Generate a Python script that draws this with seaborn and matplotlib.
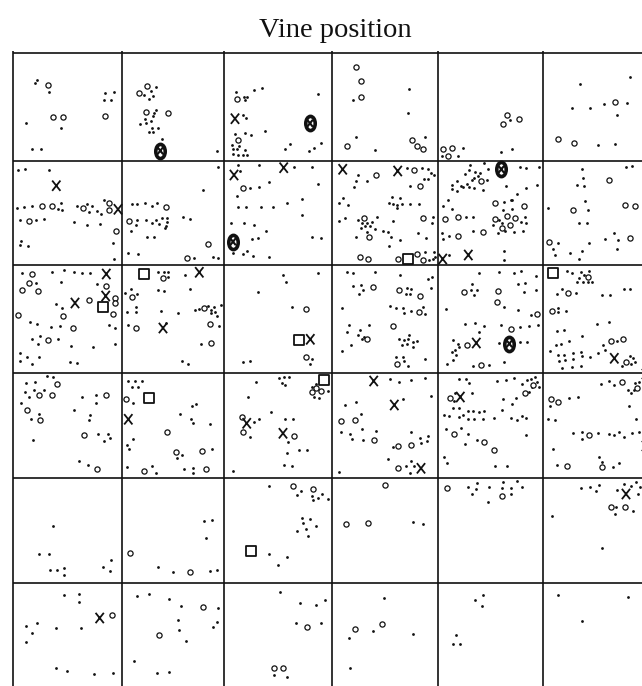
import matplotlib
matplotlib.use("Agg")
import matplotlib.pyplot as plt
import seaborn as sns
import pandas as pd
from matplotlib.path import Path
from matplotlib.transforms import Affine2D

# Field positions (picture units, origin top-left of the vineyard map)
col_edges = [13, 122, 224, 332, 437.5, 543]
row_edges = [53, 161, 265, 373, 478, 583]

dots = [
    (35,82.7),(37,80),(49,91.7),(105,92.7),(114,92.3),(104.3,100),(111.3,100),(25.7,123.3),(60.7,127.7),(32.3,148.7),(40.7,148.7),
    (156,86.7),(150.7,90.7),(144.3,95.3),(149.3,99.3),(152.7,96),(154,112.7),(156.3,110.3),(153,116),(145,119),(150.7,121),(140.3,123.7),(145.7,123),(151.7,127.7),(158.3,128.3),(149,132),(153.3,132),(162.3,139),(217,150.7),
    (235.7,91.7),(243.7,96.7),(247.3,96.7),(245.3,100.3),(254.3,90),(261.7,87.7),(318.3,94),(242.7,115.3),(246,118),(265,130.7),(235,134.3),(245,133.3),(251,134.7),(232.3,144.7),(239.3,146),(233.3,149.3),(237,149.3),(245,150),(232.7,154),(237.7,154.7),(242.7,155.3),(247.3,155),(285,149.3),(290,144),(309.3,151),(313.7,147.7),(320.7,143.3),
    (353.3,100),(409.3,89.3),(408.3,112.7),(356.3,137.3),(375.3,150),(424.7,137.3),
    (510,120),(501,152),(512.3,149.3),(442,156),(458.3,155.7),(462.7,147.7),
    (629.7,77),(580.3,84.3),(572,108.3),(590,107.7),(603.7,104),(627,102.7),(617,114.7),(598.3,145.3),(615,144),
    (18,170),(25.3,168.7),(48.7,170.3),(16.7,208.3),(24.3,206.7),(32.3,205.7),(57.7,209.3),(60.7,203),(62,210),(77.3,205.7),(87.3,203.7),(91.7,206),(89.3,212),(96.7,211.3),(101.3,214),(103.7,200.3),(20.3,220),(35.7,220),(44,219),(74,222.3),(87,224.7),(100.3,223.7),(21,241),(28.3,246),(20,245.3),(112.7,243),(114,259),
    (218,166.7),(202.7,189.7),(131.7,204),(136.7,203.7),(145.3,203),(152.3,206.3),(157.3,203.3),(137.3,220),(145.7,219.7),(151.7,223),(156.3,219.7),(161.7,218),(167,217.7),(159.3,224),(167,222),(165.7,225.7),(164.7,228),(136,225.3),(131,231.3),(182.7,217.3),(190.3,219.3),(147,237.3),(154.3,237.3),(128,253.3),(138,254),(193.7,258.3),(213.3,257),(218,258.3),
    (238.3,165.3),(239.7,171.3),(259.3,165.3),(293.7,166.7),(311.7,167.3),(250,188.3),(259.3,186.7),(269.3,181.7),(318.3,184),(236.7,195.7),(286.7,203.3),(302.3,199.3),(237.7,206.7),(246.3,206.7),(261,206.7),(273,206.7),(302.3,215),(231,222.7),(243.7,223.3),(254.3,225),(266.3,231),(251.7,238.7),(257.7,238),(311.7,237.3),(321,238),(233.3,252.7),(243,254),(247.3,250.7),(253,256),(269.3,257.3),
    (407,167.7),(422.3,168),(427.7,168.7),(431,173.3),(433.7,175),(358.3,175),(356.3,180.7),(353.7,186.7),(366.7,180.7),(424.3,179.3),(427.7,179.3),(410.3,186),(342.7,198),(338.7,203),(348.3,205),(391.7,197),(400.3,198.3),(388.7,203),(393.3,204),(397.3,205),(402,203.7),(397,207.7),(410.3,203.7),(418.7,204.3),(339.3,220.7),(345.3,217.7),(357.7,220),(361.7,223),(366.7,223.3),(371.7,221.7),(376.7,216.7),(360.7,227.7),(365.3,226),(370,226),(375,229),(367,232),(382.7,230.7),(392.7,221.3),(388.3,232.3),(433,216.7),(431.7,223.3),(391,236.7),(400.3,240),(418,233.3),(426.3,238.3),(356,237),(388.7,245.7),(425,251.7),(428.7,259.7),(433.3,259),(434.3,252.3),
    (435,256.7),(449,255),(503.7,251.3),(503.7,260),(470.3,165.3),(483.7,163),(469.3,170.3),(465,173.7),(474.7,172),(479.7,172.7),(477.7,176.3),(474,177.7),(471.7,180.3),(466.7,183.7),(460.7,185.7),(456.7,181.3),(452.3,185.3),(452.3,189.3),(457,190.7),(463,187),(469,187),(474.3,187.7),(483,189.7),(486.7,180.3),(488.3,169.3),(520,166.7),(526,167.7),(539,167.3),(506.3,185.7),(526.3,188),(537,185.3),(517.3,194),(511.7,199.7),(447.7,200.3),(443.3,206),(451.7,209),(503.7,201.7),(511,200.3),(502.7,209.7),(512.3,208.7),(466.3,216.7),(472.7,216.7),(499,220.3),(502.3,222.7),(521,222),(525,216.7),(525.7,223),(493.3,225.3),(497.7,232.7),(505,230.7),(514.3,232),(522.7,230.7),(472.7,231.3),(442.3,232.7),(449.3,236),(442.7,238.7),
    (582.3,169),(626.3,167),(631.7,165.7),(583.3,178.3),(577,185),(583.7,185.7),(548,207.7),(584.7,201.3),(588.3,210.3),(579.3,223.3),(587.3,222.7),(553,248.7),(557.7,242.7),(554.7,255.3),(570,253.3),(578.7,258.7),(581.7,251),(588.7,243),(605,238.7),(614,233.3),(618.3,240),(617.3,249),
    (21.7,272.7),(52,271.7),(63.7,270),(73.7,271.7),(82.3,273),(89.7,272.7),(35.7,282.7),(60.7,282.3),(96.7,284.3),(56,304.3),(62.3,308.3),(30,321.7),(37,324.3),(50.7,326.7),(60,326.3),(109.3,325.3),(115,328),(32.3,339),(39.7,336.3),(38.3,344),(58.3,339),(71.3,346),(93.3,347),(114.7,343.7),(19.7,353),(26.7,357),(19.7,360.7),(32,364.3),(39,357.3),(70.3,361.7),(77,363.3),
    (158,271.7),(164,271.7),(168.3,271.7),(167.7,276.7),(185.3,275),(158,289.7),(164,290.7),(190,288.7),(124.7,292.7),(131,289),(137,294.3),(135.7,307.3),(135.7,312),(127.3,312),(160.7,311.3),(178.3,313),(195,310.3),(198.7,309.3),(208.3,306),(211,309.7),(214.3,306.7),(217,315.7),(211.3,313),(215,311.7),(221,305),(219,326),(128.3,325),(165.7,323),(200.7,343.7),(182,361),(187.7,363.7),
    (282.7,275),(286,282.3),(317.7,272.7),(257.7,292.3),(292,306.7),(311.7,359),(310.3,364),(242.7,361.7),(250,361),
    (347.3,272.3),(352.7,272.7),(375.3,272.3),(400.3,275),(427.7,279),(431.7,277.3),(353,286.3),(360.7,285),(363,289.7),(359,293.7),(407.3,287.7),(411,288.7),(406,294.3),(410.3,294.3),(431.3,288.3),(342.3,308.3),(389.7,306.3),(396,308.3),(403.3,307.7),(403.7,313.3),(410.7,311),(422.7,306.7),(425,313.7),(349,325),(368.7,325),(359.7,329.7),(347.3,332.3),(358,335),(362,339.3),(351.3,345.3),(342.3,350.7),(364.3,337.3),(399.3,339),(403.7,340.3),(409,335),(408.3,339),(413.3,342.3),(417,340.7),(401.7,344.7),(407.3,343.7),(412.7,346.7),(395.7,357.3),(402.7,357.3),(404,361),(408.3,366.3),(425,358.7),
    (479,273.3),(498.7,272.3),(513.7,272.7),(521,271.3),(535.7,276.3),(472,283.7),(518.3,284.3),(525,283.3),(471,290.3),(476.7,290.3),(474,295.3),(523.7,291.7),(536,290.3),(503.7,307),(446,308.7),(518,310),(531,314.7),(465,324.3),(475,323),(484.3,326.3),(478.7,332.3),(501.3,325),(520,326.7),(529.3,325.7),(537.7,325),(453,340.3),(458,344.3),(459.3,347),(455.3,350.3),(451.7,352.3),(455.7,355),(453,360),(447.3,364.3),(499,343.3),(520,342.3),(526.7,342.3),(472.7,366),(489,365),(503.7,362),
    (567,270.7),(571.7,273.3),(580.7,271.7),(588.7,270.7),(583.7,275),(579,278.3),(583,282.3),(588,281.7),(592.3,281.7),(577.3,282.3),(562,289.3),(557,293.7),(575.7,292.7),(601.7,295),(610,295),(624.3,289.3),(630.3,289.3),(557.7,307.7),(558.3,311.7),(565.7,311.3),(597.3,323.7),(609,322),(556.7,331.3),(563.7,329.7),(582.3,336),(569.3,341.3),(555.7,345),(560.7,344.3),(603,345),(616.7,340.7),(550.3,350.7),(557.7,355),(564.3,354.7),(573.3,353.3),(581,351.7),(581.7,356),(573,359),(565.3,359.7),(558.7,360.7),(561.7,367.7),(572,367),(580.7,366),(589.7,356.7),(598,352.7),(605,350.3),(622,365.7),(629.7,355.7),(633,358.3),(635,362.3),(630.7,363.7),
    (47,375.7),(53.3,377),(26,382.7),(35,382),(43.7,389.7),(24.7,391.7),(29.3,397),(33.7,390.3),(20.7,402.7),(31,419.3),(39.3,414),(32.7,440.3),(82,397.3),(96,395.3),(95.7,403),(74,410.3),(89,420),(90.3,415),(97.7,434.3),(108,433.7),(110,438),(104.3,440.7),(78.7,461),(88,464.7),
    (128.3,380.7),(134.7,381),(141.7,381),(132.3,386.7),(138,387),(133.3,402.7),(191.7,406),(196.3,403.7),(180.3,414.3),(191,419.3),(192.7,422.7),(210.3,423.7),(133,438.7),(127.3,445),(129,449),(181.7,455.3),(177,457.7),(212,449.3),(127,467),(151.7,466.3),(155.7,473.3),(184.3,469.3),(192.7,467.7),(192.7,473),
    (255.7,382),(248.3,397),(271,412),(279.3,378),(283.7,377.3),(288.7,376.7),(281.7,383.3),(285.3,385),(311.7,386.7),(316,384),(328.3,390.7),(314,396.7),(319,398.3),(254.3,422.3),(259.3,418.7),(250.3,436.7),(285.3,419.3),(293,419),(288,441.7),(286.7,452.7),(299.3,450.3),(307,450.3),(283.7,465.3),(292,465.7),(233.3,470.7),
    (390.3,379),(398.7,382),(410.7,380),(424.7,377.7),(402.7,399),(356.3,402),(345,405.3),(431,395.7),(361,413.7),(340.7,432.3),(350,434),(352.3,438.7),(361.7,429.3),(375.7,430.7),(363,440.3),(410.7,432),(420.3,438),(421.3,442.7),(427.7,436),(427.3,441),(393.3,446.7),(387.7,458.7),(406.3,465.7),(410.7,461),(414.3,465.7),(409.7,472.7),(339,472.3),
    (459,378.7),(466,378.7),(469.3,383.3),(497,381),(506,380),(514.3,378),(521.7,384.3),(526.7,380),(531,378.7),(535,377.3),(537,381.7),(539,386.7),(531.7,386.7),(528.7,391.7),(455.3,393),(454.3,401.3),(472,392.7),(459.3,407.7),(452.7,408.3),(503,399),(515.7,398.3),(524.3,393.7),(512.3,404),(502,410.3),(467.7,410.7),(473.3,410.7),(479,411.7),(483.7,410.7),(462.7,414.7),(443.7,414.7),(449,415.7),(458.7,416.7),(467.7,418.7),(474.3,419.3),(483,418.7),(494.3,418),(511,417.7),(516.7,420),(521.7,416),(526,418),(445.7,428.7),(461,428),(468.3,433.7),(476.7,440),(465,444.3),(443.7,457),(447,463),(495,466.3),(506.7,466.3),(526,434.7),
    (569.3,397.7),(577.7,396.7),(548,419.3),(555,419.7),(550.3,405.7),(601,384.3),(609,381),(613.7,385),(628,389.7),(631.3,393),(634.3,390),(629.3,405.7),(635.7,419.3),(634.7,383),(639,381.7),(573.3,433),(581.7,431.7),(582.3,438.7),(598.3,433),(609.3,433.7),(613.7,435),(619.3,432.3),(624.3,437),(632,433),(639,432.3),(552.7,448.7),(599.3,457),(601.7,462.3),(612.7,467.3),(619.3,462.7),(557,465),
    (53.3,526.3),(39,554.3),(49.3,554.3),(50.3,570.3),(57,569.7),(64,567.7),(64.3,575.3),(102.7,566.7),(111,560.3),(110,571.3),
    (203.7,521),(212.3,520),(206.3,537.7),(157.7,566.7),(172.7,572),(210.3,571),(217,569.7),
    (269,485.7),(301,490.7),(297,495.3),(311.7,495.7),(317.7,498.3),(322,494),(327.7,498.7),(313,500.3),(301.7,518.3),(309.7,519.3),(303.3,522.7),(315.7,526.3),(306.3,529.3),(297,531),(308.3,536),(269.3,553.7),(286.7,557.3),(277.7,564.7),
    (413,522.3),(423,524),
    (467.7,487),(477.3,483.3),(476,489),(472.3,494),(488.7,486.7),(488,502.3),(502.3,488.3),(503.3,481.7),(511,488.3),(511,494),(517,481),(521.7,486.7),
    (581,488.3),(590,486.7),(595.7,491),(599,485.3),(616.7,490),(624.3,484.3),(631,486),(636,482),(640.3,486.7),(638.3,494),(616.3,507.3),(615.3,514),(633.3,511.3),(551.7,516),(602.3,548.3),
    (64,595),(79.3,594),(78.7,601.7),(25.7,625.7),(37,622.7),(32.3,633.3),(26,642.3),(56.3,627.7),(81,628),(56,668.3),(67.3,670.7),(94.3,673.7),(113,673.3),
    (136.7,596),(149.3,594.3),(169,599),(180.7,606.3),(177.7,620),(179,630),(185.7,641.3),(134.3,661.3),(156.7,673),(168.7,671.7),(218,607.7),(217,621.7),(213,626.7),
    (280.3,592),(300,603),(316.3,605),(325,599.7),(295.7,623.3),(320.7,623),(274.3,675),(286.7,676.7),
    (384,597.7),(373,631.3),(349.3,637.7),(413.3,634),(350,667.7),
    (474.7,599.7),(482.7,595.3),(482,606.3),(456.3,635),(452.7,643.7),(460,644.3),
    (558.3,594.7),(627.7,596.7),(582.3,621),
]

circles = [
    (48.3,85),(52.7,116.7),(63.3,116.7),(105.3,116.3),(146.7,86),(139,93),(145.7,111.7),(167.7,113),(237,98.7),(238.3,140),(356,66.7),(361.3,81.3),(361.3,97.3),(347,146),(412,140.3),(417,146),(423,148.7),(507.3,114.7),(503.3,123.7),(519.3,119.3),(442.7,149.3),(452.3,148.3),(447.7,156.3),(615,102),(558.3,138.7),(573.7,142.7),
    (42,206.3),(52.3,205.7),(83.3,208.3),(109,203),(109,209.7),(29,220.7),(116.3,231),(166,207),(128.7,221.3),(208.3,243.7),(187,258.3),(243.3,187.7),(414,170),(376.3,175),(420.3,185.7),(363.7,218.3),(369.3,237),(423,217.7),(360,257),(368.3,258.7),(398,259),(417.3,254.3),(422.7,259.7),(481.3,181),(495.3,203.3),(524,206),(506.7,216.3),(515,218.3),(494.7,218.7),(502,227.7),(510,225.3),(457.7,216.7),(445,219.3),(483.3,232),(458,235.7),(609.3,179.7),(625,205),(635,206),(573.3,210.3),(549.3,241.7),(630.3,238),
    (31.7,274.3),(28.7,283.3),(21.7,290),(37.7,291),(105.7,286.3),(89.3,300.3),(115,297.7),(114.7,303.3),(113,313.7),(18,315.3),(62.7,315.7),(73.3,327.7),(47.7,340),(163.3,278.3),(132,297.3),(203.7,308.3),(210.3,323.7),(136,328),(211.3,343.3),(306,309.3),(305.7,356.7),(372.7,287.3),(399.3,289.7),(419.7,295.7),(418.7,312.3),(393.3,326.3),(366.7,338.7),(397,364.3),(463.7,291.7),(498.3,291.3),(497,302.3),(537.3,313.7),(510.7,328.7),(467.3,345),(481,365),(588,277),(568.3,293.3),(552.3,311),(610.7,341),(623,339),(626.3,361.7),
    (57.3,384),(39.3,395.3),(51.7,395.3),(26.7,410),(39.7,420),(105.7,395.3),(84.3,434.7),(97.3,469.3),(126.3,398.7),(166.7,431.7),(175.7,452.3),(202.3,451),(143.7,471),(206,469.3),(315.7,387.7),(320.7,391),(312.3,391.7),(241.7,416.7),(242.7,432),(294,436),(341.3,420.7),(355,420.3),(373.7,440.3),(398.3,445.7),(410.7,444.7),(397.7,467.7),(532.7,385),(524.7,393),(450.3,398.3),(454,434.3),(483.7,441.7),(494.3,450.3),(551,398.5),(558,402.3),(621.7,381.7),(637.3,387.7),(588.7,435.3),(567,465.7),(601.7,466.7),
    (130.3,552.7),(190,572),(293.3,485.7),(313,489.3),(385,485.3),(345.7,524.3),(368,522.7),(446.7,487.7),(501.7,496),(610.7,507.3),(625,507.3),
    (112.3,615),(203.3,606.7),(159.3,635.3),(307,627),(274.3,667.7),(283.3,667.7),(355,629.3),(381.7,624.3),
]

crosses = [
    (56.3,185.7),(118,209.3),(235,118.7),(234,175),(283.7,167.7),(342.7,169.3),(397.7,171),(442.7,259),(468.3,255),
    (106.3,274),(105.7,296),(75,303),(199.3,272.3),(163,328),(310.3,339.3),(476.3,343),(614.3,358.3),
    (128.3,419.3),(246.7,423.3),(283,433.3),(373.7,381),(394.3,405),(421,468.3),(460.3,397),(626,494),(99.7,618),
    (646,374),(646,446),
]

squares = [(102.7,307),(144,274.3),(299,340),(324.3,379.7),(149,398.3),(407.7,258.7),(553.3,273),(251,551)]

circled_crosses = [(160.3,150.7),(310,123.3),(233,241.7),(501.3,169.3),(509.3,343.7)]

def frame(pts, kind):
    return pd.DataFrame({"x": [p[0] for p in pts], "y": [p[1] for p in pts], "kind": kind})

df = pd.concat([frame(dots, "dot"), frame(circles, "circle"), frame(crosses, "cross"),
                frame(squares, "square"), frame(circled_crosses, "circled")], ignore_index=True)

sns.set_style("white")
fig = plt.figure(figsize=(6.42, 6.86), dpi=100)
ax = fig.add_axes([0, 0, 1, 1])
ax.set_xlim(0, 642)
ax.set_ylim(686, 0)
ax.axis("off")

ink = "#111111"
ax.vlines(col_edges, 51, 686, color=ink, lw=1.2, zorder=1)
ax.hlines(row_edges, col_edges[0], 642, color=ink, lw=1.2, zorder=1)

# taller-than-wide cross like the printed letter X
xpath = Path([(-0.4, -0.5), (0.4, 0.5), (-0.4, 0.5), (0.4, -0.5)],
             [Path.MOVETO, Path.LINETO, Path.MOVETO, Path.LINETO])

sub = df[df.kind == "dot"]
sns.scatterplot(data=sub, x="x", y="y", marker="o", s=4, color=ink, edgecolor=ink, linewidth=0, ax=ax, zorder=3)
sub = df[df.kind == "circle"]
sns.scatterplot(data=sub, x="x", y="y", marker="o", s=14, facecolor="white", edgecolor=ink, linewidth=0.9, ax=ax, zorder=3)
sub = df[df.kind == "cross"]
sns.scatterplot(data=sub, x="x", y="y", marker=xpath, s=55, facecolor="none", edgecolor=ink, linewidth=1.3, ax=ax, zorder=4)
sub = df[df.kind == "square"]
sns.scatterplot(data=sub, x="x", y="y", marker="s", s=60, facecolor="white", edgecolor=ink, linewidth=1.3, ax=ax, zorder=4)
ellipse = Path.unit_circle().transformed(Affine2D().scale(0.66, 1.0))
sub = df[df.kind == "circled"]
sns.scatterplot(data=sub, x="x", y="y", marker=ellipse, s=105, facecolor="white", edgecolor=ink, linewidth=2.6, ax=ax, zorder=5)
sns.scatterplot(data=sub, x="x", y="y", marker=xpath, s=26, facecolor="none", edgecolor=ink, linewidth=1.5, ax=ax, zorder=6)

ax.text(335, 37, "Vine position", ha="center", va="baseline", fontsize=20.5,
        family=["Liberation Serif", "DejaVu Serif"], color=ink)
ax.set_xlabel("")
ax.set_ylabel("")

fig.savefig("out.png", dpi=100)
